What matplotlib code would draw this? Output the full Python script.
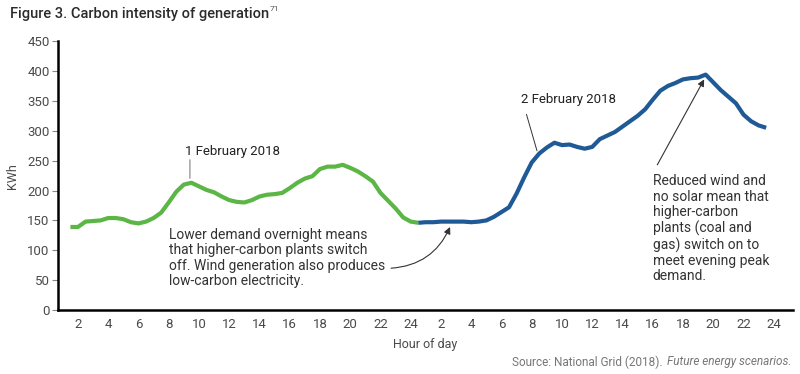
import numpy as np
import matplotlib
matplotlib.use("Agg")
import matplotlib.pyplot as plt

plt.rcParams['font.family'] = ['Roboto', 'DejaVu Sans']

# half-hourly readings, hour index runs over two days (25..48 = day 2 hours 1..24)
day1_hours = np.arange(1.5, 24.51, 0.5)
day1_vals = [139, 139, 148, 149, 150, 154, 154, 152, 147, 145, 148, 154, 163, 180, 198, 210,
             213, 207, 201, 197, 190, 184, 181, 180, 184, 190, 193, 194, 196, 204, 213, 220,
             224, 236, 240, 240, 243, 238, 232, 224, 215, 196, 183, 170, 155, 148, 146]
day2_hours = np.arange(24.5, 47.51, 0.5)
day2_vals = [146, 147, 147, 148, 148, 148, 148, 147, 148, 150, 156, 164, 172, 195, 222, 247,
             262, 272, 280, 276, 277, 273, 270, 273, 286, 292, 298, 307, 316, 325, 336, 352,
             367, 375, 380, 386, 388, 389, 394, 381, 368, 357, 346, 327, 316, 309, 305]
tick_pos = list(range(2, 49, 2))
tick_labels = [str(h) for h in range(2, 25, 2)] * 2
y_ticks = list(range(0, 451, 50))

green = '#5bb645'
blue = '#1f5a96'
grey = '#4a4a4a'

fig = plt.figure(figsize=(8, 3.74), dpi=100)
ax = fig.add_axes([0.0725, 0.171, 0.9185, 0.719])

ax.plot(day1_hours, day1_vals, color=green, lw=3.0, solid_joinstyle='round', solid_capstyle='butt')
ax.plot(day2_hours, day2_vals, color=blue, lw=3.0, solid_joinstyle='round', solid_capstyle='butt')

ax.set_xlim(0.68, 49.26)
ax.set_ylim(0, 450)
ax.set_xticks(tick_pos)
ax.set_xticklabels(tick_labels)
ax.set_yticks(y_ticks)
ax.tick_params(axis='x', length=0, pad=6, labelsize=9.5, labelcolor=grey)
ax.tick_params(axis='y', length=4, width=0.8, color='#888888', pad=2, labelsize=9.5, labelcolor=grey)
for s in ['top', 'right']:
    ax.spines[s].set_visible(False)
for s in ['left', 'bottom']:
    ax.spines[s].set_linewidth(1.8)
    ax.spines[s].set_color('black')

ax.set_ylabel('KWh', fontsize=9, color=grey, labelpad=6)
ax.set_xlabel('Hour of day', fontsize=9, color=grey, labelpad=5)

# day labels
ax.text(9.1, 265, '1 February 2018', fontsize=9.5, color='#222222', va='center', ha='left')
ax.annotate('', xy=(9.4, 216), xytext=(9.4, 256),
            arrowprops=dict(arrowstyle='-', color='#999999', lw=1.0))
ax.text(31.3, 352, '2 February 2018', fontsize=9.5, color='#222222', va='center', ha='left')
ax.annotate('', xy=(32.4, 262), xytext=(31.6, 332),
            arrowprops=dict(arrowstyle='-', color='#333333', lw=0.7))

# explanatory notes
ax.text(8.0, 137, 'Lower demand overnight means\nthat higher-carbon plants switch\n'
        'off. Wind generation also produces\nlow-carbon electricity.',
        fontsize=10, color='#333333', va='top', ha='left', linespacing=1.12)
ax.annotate('', xy=(26.6, 139), xytext=(22.7, 70),
            arrowprops=dict(arrowstyle='-|>', color='#333333', lw=0.8,
                            mutation_scale=10, connectionstyle='arc3,rad=0.3',
                            shrinkA=0, shrinkB=0))
ax.text(40.0, 227, 'Reduced wind and\nno solar mean that\nhigher-carbon\nplants (coal and\n'
        'gas) switch on to\nmeet evening peak\ndemand.',
        fontsize=10, color='#333333', va='top', ha='left', linespacing=1.12)
ax.annotate('', xy=(43.4, 386), xytext=(40.3, 243),
            arrowprops=dict(arrowstyle='-|>', color='#333333', lw=0.8,
                            mutation_scale=10, shrinkA=0, shrinkB=0))

# title with superscript
t = fig.text(10 / 800, 1 - 14 / 374, 'Figure 3. Carbon intensity of generation',
             fontsize=10.5, fontweight='medium', color='#2b2b2b', va='center', ha='left')
fig.canvas.draw()
bb = t.get_window_extent()
fig.text((bb.x1 + 1) / 800, 1 - 9 / 374, '71', fontsize=6, color='#555555',
         va='center', ha='left')

# source line
src_i = fig.text(791 / 800, 1 - 362 / 374, 'Future energy scenarios.', fontsize=8.5,
                 style='italic', color='#777777', ha='right', va='center')
fig.canvas.draw()
bb2 = src_i.get_window_extent()
fig.text((bb2.x0 - 1) / 800, 1 - 362 / 374, 'Source: National Grid (2018). ', fontsize=8.5,
         color='#777777', ha='right', va='center')

fig.savefig('out.png', dpi=100)
